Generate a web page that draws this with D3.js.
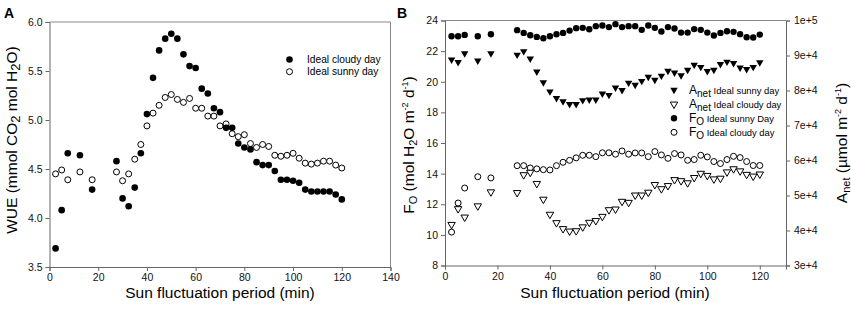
<!DOCTYPE html>
<html>
<head>
<meta charset="utf-8">
<script src="https://cdn.jsdelivr.net/npm/d3@7"></script>
<style>
body{margin:0;background:#fff}
svg{font-family:Arial,"Liberation Sans",sans-serif}
</style>
</head>
<body>
<svg id="chart" width="851" height="312"></svg>
<script>
// sampling times (min)
const minutes = [2.5,5,7.5,12.5,17.5,27.5,30,32.5,35,37.5,40,42.5,45,47.5,50,52.5,55,57.5,60,62.5,65,67.5,70,72.5,75,77.5,80,82.5,85,87.5,90,92.5,95,97.5,100,102.5,105,107.5,110,112.5,115,117.5,120];

// panel A - WUE
const wueCloudy = [3.69,4.08,4.66,4.64,4.29,4.58,4.20,4.12,4.31,4.66,5.06,5.43,5.71,5.83,5.88,5.83,5.67,5.55,5.53,5.32,5.27,5.12,5.08,4.92,4.92,4.76,4.72,4.70,4.57,4.54,4.54,4.48,4.39,4.39,4.38,4.36,4.29,4.27,4.27,4.27,4.27,4.24,4.19];
const wueSunny = [4.45,4.49,4.39,4.47,4.39,4.47,4.38,4.45,4.60,4.75,4.94,5.07,5.15,5.23,5.26,5.21,5.18,5.22,5.12,5.12,5.04,5.04,4.94,4.96,4.86,4.83,4.85,4.76,4.72,4.75,4.73,4.64,4.63,4.64,4.66,4.61,4.56,4.55,4.56,4.58,4.58,4.54,4.51];

// panel B - Fo (left axis) and Anet (right axis)
const foSunny = [22.97,22.97,23.06,22.97,23.10,23.37,23.19,23.04,22.93,22.84,22.97,23.10,23.19,23.34,23.50,23.52,23.43,23.63,23.67,23.57,23.76,23.57,23.63,23.63,23.39,23.67,23.52,23.28,23.57,23.48,23.21,23.21,23.44,23.39,23.21,23.02,23.19,23.30,23.26,23.11,22.91,22.89,23.08];
const foCloudy = [10.18,12.08,13.06,13.80,13.72,14.52,14.52,14.37,14.31,14.26,14.24,14.52,14.74,14.87,15.03,15.20,15.20,15.11,15.36,15.36,15.27,15.48,15.27,15.35,15.35,15.11,15.44,15.22,15.00,15.31,15.22,14.87,14.92,15.20,15.09,14.79,14.66,14.92,15.13,15.05,14.79,14.53,14.53];
const anetSunny = [88800,88100,90600,88500,90600,90200,91200,89100,85400,82300,79700,77800,76900,76100,76100,77200,77400,77400,79100,78700,80800,80100,82200,81600,82700,83900,83000,84200,85600,85100,84300,85900,87300,86700,85500,85900,87500,88200,87800,86500,86100,86700,88000];
const anetCloudy = [41700,46200,43800,47000,51000,50800,55900,56600,53400,48900,44600,42200,40500,39800,39900,41000,42300,42800,44000,45900,46100,48300,48000,50100,50100,50900,53100,51900,52800,54500,54200,53600,55100,56300,55700,54700,54900,56700,57600,57000,56000,55500,56100];

// tick labels
const xTicksA = [0,20,40,60,80,100,120,140];
const yTicksA = [3.5,4.0,4.5,5.0,5.5,6.0];
const xTicksB = [0,20,40,60,80,100,120];
const yTicksB = [8,10,12,14,16,18,20,22,24];
const rTicksB = [30000,40000,50000,60000,70000,80000,90000,100000];

const svg = d3.select("#chart");
const axisCol = "#666";

function styleAxis(g, size){
  g.select(".domain").attr("stroke", axisCol);
  g.selectAll(".tick line").attr("stroke", axisCol);
  g.selectAll(".tick text").attr("fill", "#111").attr("font-size", size);
}

function addText(parent, parts, base){
  let t = parent.append("text");
  parts.forEach(p => {
    t.append("tspan")
     .attr("font-size", p.s || base)
     .attr("dy", p.dy || 0)
     .text(p.t);
  });
  return t;
}

let triDown = d3.symbol().type(d3.symbolTriangle).size(24);

// ---------- panel A ----------
let xA = d3.scaleLinear().domain([0,140]).range([49.5,390.5]);
let yA = d3.scaleLinear().domain([3.5,6.0]).range([267,22]);

let gA = svg.append("g");
gA.append("line").attr("x1",xA(0)).attr("x2",xA(140)).attr("y1",yA(6)).attr("y2",yA(6)).attr("stroke","#888");
gA.append("line").attr("x1",xA(140)).attr("x2",xA(140)).attr("y1",yA(6)).attr("y2",yA(3.5)).attr("stroke","#888");

gA.append("g").attr("transform",`translate(0,${yA(3.5)})`)
  .call(d3.axisBottom(xA).tickValues(xTicksA).tickSizeOuter(0).tickSize(4).tickPadding(3))
  .call(g=>styleAxis(g,10.5));
gA.append("g").attr("transform",`translate(${xA(0)},0)`)
  .call(d3.axisLeft(yA).tickValues(yTicksA).tickFormat(d3.format(".1f")).tickSizeOuter(0).tickSize(4).tickPadding(3))
  .call(g=>styleAxis(g,10.5));

gA.append("g").selectAll("circle").data(minutes).join("circle")
  .attr("cx",d=>xA(d)).attr("cy",(d,i)=>yA(wueSunny[i])).attr("r",3)
  .attr("fill","#fff").attr("stroke","#000").attr("stroke-width",1);
gA.append("g").selectAll("circle").data(minutes).join("circle")
  .attr("cx",d=>xA(d)).attr("cy",(d,i)=>yA(wueCloudy[i])).attr("r",3.3)
  .attr("fill","#000");

// legend A
let legA = gA.append("g").attr("font-size",10.2);
legA.append("circle").attr("cx",289.5).attr("cy",59.5).attr("r",3.3).attr("fill","#000");
legA.append("circle").attr("cx",289.5).attr("cy",71.7).attr("r",3).attr("fill","#fff").attr("stroke","#000");
legA.append("text").attr("x",307).attr("y",63).text("Ideal cloudy day");
legA.append("text").attr("x",307).attr("y",75.3).text("Ideal sunny day");

// titles A
gA.append("text").attr("x",4).attr("y",18).attr("font-size",14).attr("font-weight","bold").text("A");
addText(gA.append("g").attr("transform","translate(17,140) rotate(-90)"),
  [{t:"WUE (mmol CO"},{t:"2",s:13,dy:3},{t:" mol H",dy:-3},{t:"2",s:13,dy:3},{t:"O)",dy:-3}],15.5)
  .attr("text-anchor","middle");
gA.append("text").attr("x",220).attr("y",298).attr("text-anchor","middle").attr("font-size",15.5)
  .text("Sun fluctuation period (min)");

// ---------- panel B ----------
let xB = d3.scaleLinear().domain([0,130]).range([445,786]);
let yB = d3.scaleLinear().domain([8,24]).range([265.5,20.5]);
let yR = d3.scaleLinear().domain([30000,100000]).range([265.5,20.5]);

let gB = svg.append("g");
gB.append("line").attr("x1",xB(0)).attr("x2",xB(130)).attr("y1",yB(24)).attr("y2",yB(24)).attr("stroke","#888");

gB.append("g").attr("transform",`translate(0,${yB(8)})`)
  .call(d3.axisBottom(xB).tickValues(xTicksB).tickSizeOuter(0).tickSize(4).tickPadding(3))
  .call(g=>styleAxis(g,10.5));
gB.append("g").attr("transform",`translate(${xB(0)},0)`)
  .call(d3.axisLeft(yB).tickValues(yTicksB).tickSizeOuter(0).tickSize(4).tickPadding(3))
  .call(g=>styleAxis(g,10.5));
gB.append("g").attr("transform",`translate(${xB(130)},0)`)
  .call(d3.axisRight(yR).tickValues(rTicksB).tickFormat(d3.format(".0e")).tickSizeOuter(0).tickSize(4).tickPadding(4))
  .call(g=>styleAxis(g,10.5));

gB.append("g").selectAll("circle").data(minutes).join("circle")
  .attr("cx",d=>xB(d)).attr("cy",(d,i)=>yB(foSunny[i])).attr("r",3.2).attr("fill","#000");
gB.append("g").selectAll("circle").data(minutes).join("circle")
  .attr("cx",d=>xB(d)).attr("cy",(d,i)=>yB(foCloudy[i])).attr("r",3)
  .attr("fill","#fff").attr("stroke","#000");
gB.append("g").selectAll("path").data(minutes).join("path")
  .attr("d",triDown).attr("transform",(d,i)=>`translate(${xB(d)},${yR(anetSunny[i])}) rotate(180)`)
  .attr("fill","#000");
gB.append("g").selectAll("path").data(minutes).join("path")
  .attr("d",triDown).attr("transform",(d,i)=>`translate(${xB(d)},${yR(anetCloudy[i])}) rotate(180)`)
  .attr("fill","#fff").attr("stroke","#000");

// legend B
let legB = gB.append("g");
let rows = [
  {y:90, sym:"tri", fill:"#000", main:"A", sub:"net", lab:"Ideal sunny day"},
  {y:104.2, sym:"tri", fill:"#fff", main:"A", sub:"net", lab:"Ideal cloudy day"},
  {y:118.3, sym:"dot", fill:"#000", main:"F", sub:"O", lab:"Ideal sunny Day"},
  {y:132.3, sym:"dot", fill:"#fff", main:"F", sub:"O", lab:"Ideal cloudy day"}
];
rows.forEach(r=>{
  if(r.sym=="tri"){
    legB.append("path").attr("d",triDown).attr("transform",`translate(674,${r.y}) rotate(180)`)
      .attr("fill",r.fill).attr("stroke",r.fill=="#fff"?"#000":null);
  } else {
    legB.append("circle").attr("cx",674).attr("cy",r.y).attr("r",r.fill=="#000"?3.2:3)
      .attr("fill",r.fill).attr("stroke",r.fill=="#fff"?"#000":null);
  }
  addText(legB,[{t:r.main,s:12},{t:r.sub,s:10,dy:3},{t:" "+r.lab,s:9.4,dy:-3}],12)
    .attr("x",689).attr("y",r.y+4);
});

// titles B
gB.append("text").attr("x",397).attr("y",18).attr("font-size",14).attr("font-weight","bold").text("B");
addText(gB.append("g").attr("transform","translate(414,145) rotate(-90)"),
  [{t:"F"},{t:"O",s:11,dy:3},{t:" (mol H",dy:-3},{t:"2",s:11,dy:3},{t:"O m",dy:-3},
   {t:"-2",s:9,dy:-6},{t:" d",dy:6},{t:"-1",s:9,dy:-6},{t:")",dy:6}],15.5)
  .attr("text-anchor","middle");
addText(gB.append("g").attr("transform","translate(847,143) rotate(-90)"),
  [{t:"A"},{t:"net",s:11,dy:3},{t:" (µmol m",dy:-3},
   {t:"-2",s:9,dy:-6},{t:" d",dy:6},{t:"-1",s:9,dy:-6},{t:")",dy:6}],15.5)
  .attr("text-anchor","middle");
gB.append("text").attr("x",615).attr("y",298).attr("text-anchor","middle").attr("font-size",15.5)
  .text("Sun fluctuation period (min)");
</script>
</body>
</html>
